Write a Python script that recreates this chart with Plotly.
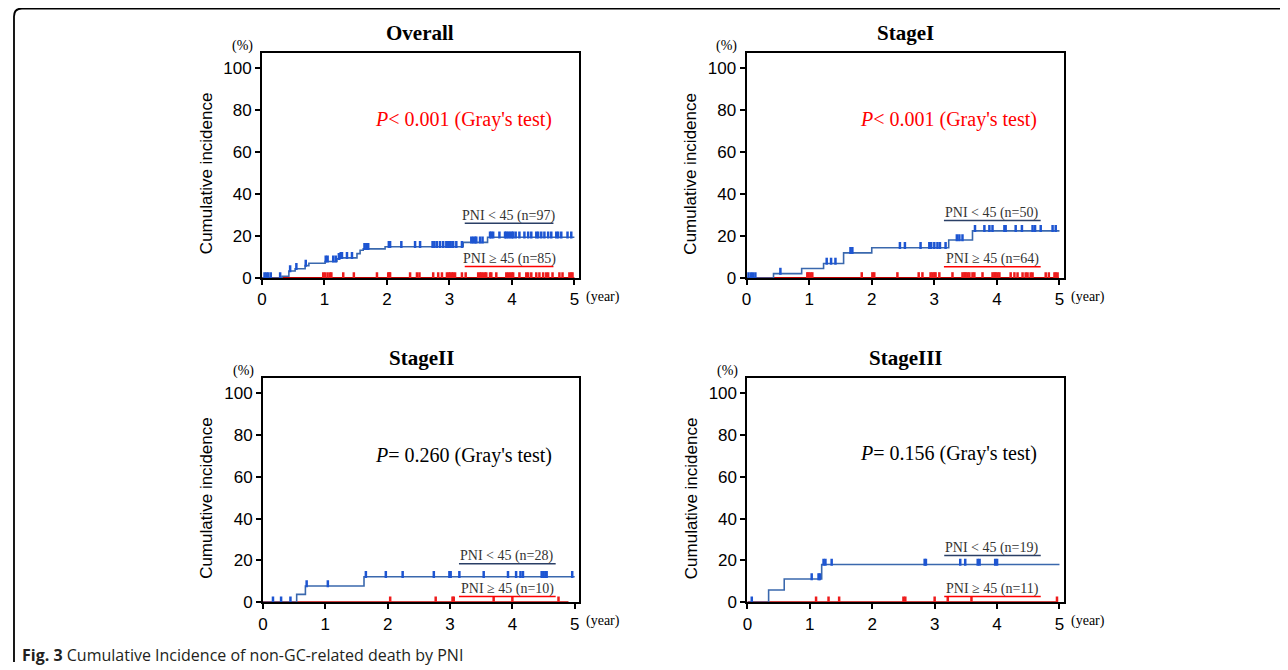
import numpy as np
import plotly.graph_objects as go

# ---------------- data ----------------
panel_titles = ["Overall", "StageI", "StageII", "StageIII"]
p_texts = ["<i>P</i>< 0.001 (Gray's test)", "<i>P</i>< 0.001 (Gray's test)",
           "<i>P</i>= 0.260 (Gray's test)", "<i>P</i>= 0.156 (Gray's test)"]
p_colors = ["#ff0000", "#ff0000", "#000000", "#000000"]
low_labels = ["PNI < 45 (n=97)", "PNI < 45 (n=50)", "PNI < 45 (n=28)", "PNI < 45 (n=19)"]
high_labels = ["PNI ≥ 45 (n=85)", "PNI ≥ 45 (n=64)", "PNI ≥ 45 (n=10)", "PNI ≥ 45 (n=11)"]

# PNI < 45 (blue) step curves: event times (years) and cumulative incidence (%)
overall_low_t = [0, 0.32, 0.43, 0.53, 0.69, 0.75, 1.01, 1.20, 1.25, 1.52, 1.57, 1.62, 1.97, 3.22, 3.61]
overall_low_y = [0, 0.8, 3.3, 4.4, 5.9, 7.0, 7.9, 9.2, 9.6, 11.6, 13.2, 13.9, 14.9, 17.0, 19.4]
overall_low_end = 5.0
overall_low_cens = [0.04, 0.07, 0.1, 0.14, 0.29, 0.45, 0.55, 0.7, 1.02, 1.05, 1.14, 1.18, 1.23, 1.26,
                    1.28, 1.36, 1.44, 1.64, 1.67, 1.7, 2.03, 2.05, 2.23, 2.45, 2.53, 2.73, 2.76, 2.8,
                    2.85, 2.9, 2.95, 2.98, 3.0, 3.02, 3.06, 3.11, 3.2, 3.35, 3.38, 3.41, 3.43, 3.49,
                    3.53, 3.65, 3.67, 3.7, 3.8, 3.89, 3.91, 3.94, 3.97, 4.0, 4.02, 4.06, 4.12, 4.2,
                    4.26, 4.31, 4.39, 4.42, 4.47, 4.52, 4.58, 4.63, 4.71, 4.74, 4.79, 4.89, 4.95]
overall_high_end = 5.0
overall_high_cens = [0.98, 1.01, 1.05, 1.09, 1.11, 1.3, 1.47, 1.84, 2.02, 2.04, 2.05, 2.37, 2.48, 2.52,
                     2.74, 2.82, 2.88, 2.96, 2.99, 3.01, 3.04, 3.06, 3.09, 3.2, 3.26, 3.46, 3.49,
                     3.51, 3.54, 3.57, 3.59, 3.65, 3.67, 3.75, 3.91, 3.94, 3.97, 4.0, 4.02, 4.12,
                     4.23, 4.26, 4.31, 4.39, 4.44, 4.5, 4.55, 4.58, 4.65, 4.76, 4.81, 4.92, 4.95, 4.97]

stage1_low_t = [0, 0.43, 0.88, 1.23, 1.55, 2.0, 3.23, 3.61]
stage1_low_y = [0, 2.1, 4.5, 6.9, 12.0, 14.4, 18.1, 22.5]
stage1_low_end = 5.0
stage1_low_cens = [0.03, 0.07, 0.1, 0.14, 0.54, 1.28, 1.35, 1.42, 1.66, 1.69, 2.45, 2.53, 2.78, 2.92,
                   2.95, 3.0, 3.05, 3.09, 3.18, 3.36, 3.4, 3.45, 3.65, 3.8, 3.88, 3.93, 4.12, 4.14,
                   4.3, 4.4, 4.57, 4.61, 4.7, 4.89, 4.94]
stage1_high_end = 4.99
stage1_high_cens = [0.97, 0.99, 1.02, 1.05, 1.84, 2.01, 2.04, 2.41, 2.75, 2.81, 2.94, 2.97, 3.0, 3.02,
                    3.08, 3.29, 3.45, 3.48, 3.5, 3.53, 3.56, 3.61, 3.64, 3.77, 3.93, 3.96, 3.98,
                    4.01, 4.04, 4.22, 4.28, 4.33, 4.41, 4.46, 4.49, 4.54, 4.57, 4.78, 4.83, 4.92,
                    4.94, 4.97]

stage2_low_t = [0, 0.54, 0.68, 1.62]
stage2_low_y = [0, 3.8, 7.8, 12.2]
stage2_low_end = 5.0
stage2_low_cens = [0.16, 0.29, 0.44, 0.7, 1.04, 1.65, 1.97, 2.24, 2.74, 2.99, 3.01, 3.15, 3.54,
                   3.93, 4.06, 4.13, 4.17, 4.47, 4.5, 4.53, 4.55, 4.96]
stage2_high_end = 4.9
stage2_high_cens = [2.04, 2.77, 3.04, 3.06, 3.7, 4.0, 4.74]

stage3_low_t = [0, 0.34, 0.59, 1.19]
stage3_low_y = [0, 5.9, 11.1, 18.1]
stage3_low_end = 5.0
stage3_low_cens = [0.07, 1.03, 1.14, 1.16, 1.22, 1.25, 1.35, 2.84, 2.86, 3.41, 3.49, 3.69, 3.72,
                   3.97, 4.0]
stage3_high_end = 4.97
stage3_high_cens = [1.1, 1.3, 1.47, 2.5, 2.53, 3.0, 3.21, 3.59, 4.96]

x_ticks = [0, 1, 2, 3, 4, 5]
y_ticks = [0, 20, 40, 60, 80, 100]

panels = [
    (overall_low_t, overall_low_y, overall_low_end, overall_low_cens, overall_high_end, overall_high_cens),
    (stage1_low_t, stage1_low_y, stage1_low_end, stage1_low_cens, stage1_high_end, stage1_high_cens),
    (stage2_low_t, stage2_low_y, stage2_low_end, stage2_low_cens, stage2_high_end, stage2_high_cens),
    (stage3_low_t, stage3_low_y, stage3_low_end, stage3_low_cens, stage3_high_end, stage3_high_cens),
]

# ---------------- layout / style ----------------
XOFF, YOFF, YSCALE = 11, 8, 0.985   # page offset / vertical compensation of the viewer
W, H = 1272, 664
x_domains = [(261, 579), (747.5, 1066), (262, 579.3), (748.3, 1066)]
y_domains = [(278, 53.3), (278, 53.3), (602.3, 378.3), (602.3, 378.3)]
# label positions (data-% units) per panel
p_y = [75.6, 75.6, 70.2, 71.2]
low_lab_y = [29.7, 31.0, 22.0, 26.0]
high_lab_y = [9.1, 9.0, 6.3, 6.3]
lab_x = [(0.640, 0.920), (0.622, 0.927), (0.620, 0.926), (0.622, 0.927)]

BLUE_LINE = "#3a68ad"
BLUE_MARK = "#1d55d2"
RED_LINE = "#c00000"
RED_MARK = "#ee1c1c"
SERIF = "Liberation Serif, Times New Roman, serif"
SANS = "Liberation Sans, Arial, sans-serif"
XMAX, YMAX = 5.07, 107.2
LIFT = 1.1  # visual lift of censor ticks above the curve


def px_x(v):
    return (v - XOFF) / W


def px_y(v):
    return 1 - ((v - YOFF) / YSCALE) / H


fig = go.Figure()
annotations = []
shapes = []

for i, (lt, ly, lend, lcens, hend, hcens) in enumerate(panels):
    n = i + 1
    xa = "x" if n == 1 else f"x{n}"
    ya = "y" if n == 1 else f"y{n}"
    # red (PNI >= 45): flat at 0
    fig.add_trace(go.Scatter(x=[0, hend], y=[0, 0], xaxis=xa, yaxis=ya, mode="lines",
                             line=dict(color=RED_LINE, width=2), showlegend=False, hoverinfo="skip"))
    fig.add_trace(go.Scatter(x=hcens, y=[0 + LIFT] * len(hcens), xaxis=xa, yaxis=ya, mode="markers",
                             marker=dict(symbol="line-ns", size=5, line=dict(color=RED_MARK, width=2.5)),
                             showlegend=False, hoverinfo="skip"))
    # blue (PNI < 45): step curve
    sx = list(lt) + [lend]
    sy = list(ly) + [ly[-1]]
    fig.add_trace(go.Scatter(x=sx, y=sy, xaxis=xa, yaxis=ya, mode="lines", line_shape="hv",
                             line=dict(color=BLUE_LINE, width=1.6), showlegend=False, hoverinfo="skip"))
    idx = np.searchsorted(np.array(lt), np.array(lcens), side="right") - 1
    cy = [ly[k] + LIFT for k in idx]
    fig.add_trace(go.Scatter(x=lcens, y=cy, xaxis=xa, yaxis=ya, mode="markers",
                             marker=dict(symbol="line-ns", size=5, line=dict(color=BLUE_MARK, width=2.5)),
                             showlegend=False, hoverinfo="skip"))

    xd = x_domains[i]
    yd = y_domains[i]
    axis_common = dict(showline=True, linewidth=2, linecolor="black", mirror=True,
                       ticks="outside", ticklen=5, tickwidth=2, tickcolor="black",
                       showgrid=False, zeroline=False, fixedrange=True,
                       tickfont=dict(family=SANS, size=17, color="black"))
    fig.layout[("xaxis" if n == 1 else f"xaxis{n}")] = dict(
        domain=[px_x(xd[0]), px_x(xd[1])], range=[0, XMAX], tickvals=x_ticks,
        anchor=ya, **axis_common)
    fig.layout[("yaxis" if n == 1 else f"yaxis{n}")] = dict(
        domain=[px_y(yd[0]), px_y(yd[1])], range=[0, YMAX], tickvals=y_ticks,
        anchor=xa, **axis_common)

    xdom = f"{xa} domain"
    ydom = f"{ya} domain"
    # title
    annotations.append(dict(text=f"<b>{panel_titles[i]}</b>", xref=xdom, yref=ydom, x=0.5, y=1 + 20 / 224,
                            showarrow=False, xanchor="center", yanchor="middle",
                            font=dict(family=SERIF, size=21, color="black")))
    # (%)
    annotations.append(dict(text="(%)", xref=xdom, yref=ydom, x=-0.063, y=1 + 7.5 / 224,
                            showarrow=False, xanchor="center", yanchor="middle",
                            font=dict(family=SERIF, size=14, color="black")))
    # (year)
    annotations.append(dict(text="(year)", xref=xdom, yref=ydom, x=1.015, y=-0.084,
                            showarrow=False, xanchor="left", yanchor="middle",
                            font=dict(family=SERIF, size=14, color="black")))
    # y title
    annotations.append(dict(text="Cumulative incidence", xref=xdom, yref=ya, x=-0.177, y=50,
                            showarrow=False, textangle=-90, xanchor="center", yanchor="middle",
                            font=dict(family=SANS, size=17, color="black")))
    # p-value
    annotations.append(dict(text=p_texts[i], xref=xdom, yref=ya, x=0.922, y=p_y[i],
                            showarrow=False, xanchor="right", yanchor="middle",
                            font=dict(family=SERIF, size=20, color=p_colors[i])))
    # group labels with underline
    x0, x1 = lab_x[i]
    annotations.append(dict(text=low_labels[i], xref=xdom, yref=ya, x=(x0 + x1) / 2, y=low_lab_y[i],
                            showarrow=False, xanchor="center", yanchor="middle",
                            font=dict(family=SERIF, size=14, color="#333333")))
    annotations.append(dict(text=high_labels[i], xref=xdom, yref=ya, x=(x0 + x1) / 2, y=high_lab_y[i],
                            showarrow=False, xanchor="center", yanchor="middle",
                            font=dict(family=SERIF, size=14, color="#333333")))
    shapes.append(dict(type="line", xref=xdom, yref=ya, x0=x0, x1=x1,
                       y0=low_lab_y[i] - 3.6, y1=low_lab_y[i] - 3.6,
                       line=dict(color="#2a3f66", width=1.5)))
    shapes.append(dict(type="line", xref=xdom, yref=ya, x0=x0, x1=x1,
                       y0=high_lab_y[i] - 3.6, y1=high_lab_y[i] - 3.6,
                       line=dict(color="#ff0000", width=1.5)))

# caption
annotations.append(dict(text="<b>Fig. 3</b> Cumulative Incidence of non-GC-related death by PNI",
                        xref="paper", yref="paper", x=px_x(18), y=px_y(655), showarrow=False,
                        xanchor="left", yanchor="middle",
                        font=dict(family="Open Sans, Noto Sans, sans-serif", size=16, color="#231f20")))

# outer frame (left and top edge with rounded corner)
lx, ty = px_x(XOFF + 1), px_y(8.5)
rx, ry = 8 / W, 8 / H
shapes.append(dict(type="path", xref="paper", yref="paper",
                   path=f"M {lx},0 L {lx},{ty - ry} Q {lx},{ty} {lx + rx},{ty} L 1,{ty}",
                   line=dict(color="black", width=1.8)))

fig.update_layout(width=W, height=H, autosize=False, margin=dict(l=0, r=0, t=0, b=0),
                  plot_bgcolor="white", paper_bgcolor="white",
                  annotations=annotations, shapes=shapes, showlegend=False)

fig.write_html("out.html")
